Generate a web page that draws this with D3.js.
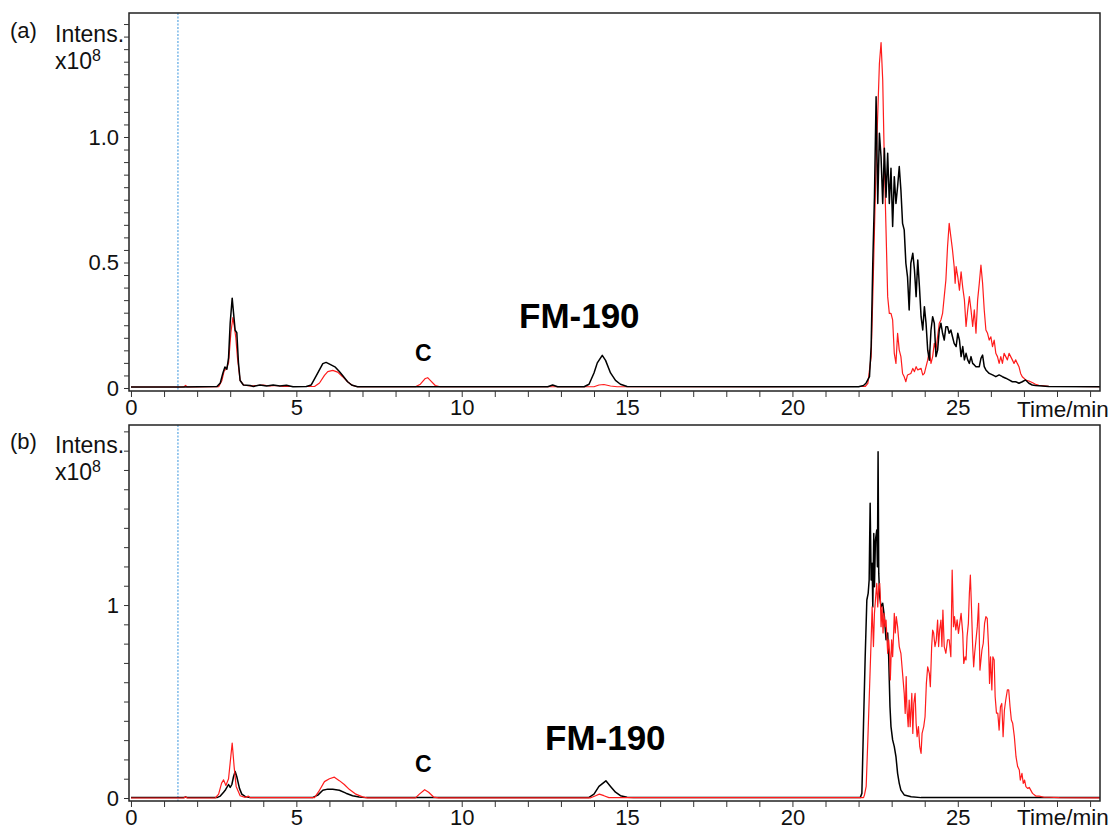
<!DOCTYPE html>
<html>
<head>
<meta charset="utf-8">
<script src="https://cdn.jsdelivr.net/npm/d3@7/dist/d3.min.js"></script>
<style>
  html, body { margin: 0; padding: 0; background: #fff; }
  svg { display: block; font-family: "Liberation Sans", Arial, sans-serif; }
</style>
</head>
<body>
<svg id="chart" width="1118" height="832"></svg>
<script>
// Base peak chromatograms, intensity in units of 1e8, time in minutes.
// Panel (a): black trace
const aBlack = [[0,0.004],[1.5,0.004],[2.6,0.006],[2.7,0.02],[2.78,0.06],[2.84,0.084],[2.9,0.075],[2.95,0.12],[3.0,0.26],[3.06,0.358],[3.1,0.3],[3.15,0.23],[3.2,0.22],[3.25,0.1],[3.3,0.03],[3.4,0.012],[3.6,0.01],[3.7,0.006],[3.9,0.012],[4.1,0.008],[4.3,0.012],[4.5,0.008],[4.7,0.011],[4.9,0.005],[5.3,0.006],[5.45,0.012],[5.6,0.048],[5.8,0.097],[5.9,0.102],[6.05,0.092],[6.18,0.083],[6.3,0.066],[6.4,0.05],[6.55,0.025],[6.67,0.012],[6.85,0.005],[12.6,0.005],[12.75,0.012],[12.9,0.005],[13.7,0.005],[13.85,0.015],[14.0,0.06],[14.1,0.1],[14.25,0.13],[14.35,0.11],[14.5,0.06],[14.65,0.03],[14.8,0.015],[15.0,0.006],[22.0,0.005],[22.15,0.01],[22.23,0.02],[22.33,0.045],[22.38,0.165],[22.43,0.5],[22.48,0.76],[22.53,1.16],[22.58,0.735],[22.63,1.015],[22.68,0.92],[22.73,0.735],[22.78,0.955],[22.83,0.76],[22.88,0.935],[22.93,0.735],[22.98,0.875],[23.03,0.643],[23.08,0.842],[23.13,0.735],[23.18,0.802],[23.23,0.882],[23.28,0.789],[23.33,0.656],[23.38,0.63],[23.43,0.497],[23.48,0.443],[23.53,0.311],[23.58,0.497],[23.64,0.537],[23.69,0.47],[23.74,0.364],[23.79,0.51],[23.84,0.404],[23.89,0.284],[23.94,0.231],[23.99,0.324],[24.04,0.258],[24.09,0.151],[24.14,0.111],[24.19,0.231],[24.24,0.284],[24.29,0.258],[24.34,0.125],[24.39,0.151],[24.44,0.231],[24.49,0.258],[24.54,0.218],[24.59,0.191],[24.64,0.244],[24.69,0.244],[24.74,0.218],[24.79,0.231],[24.84,0.204],[24.89,0.178],[24.95,0.165],[25.0,0.218],[25.05,0.191],[25.1,0.125],[25.15,0.165],[25.2,0.112],[25.25,0.138],[25.3,0.112],[25.35,0.098],[25.4,0.125],[25.45,0.098],[25.5,0.092],[25.55,0.085],[25.65,0.085],[25.7,0.118],[25.75,0.131],[25.8,0.085],[25.85,0.072],[25.95,0.058],[26.05,0.052],[26.15,0.045],[26.25,0.052],[26.35,0.045],[26.45,0.039],[26.55,0.032],[26.65,0.025],[26.75,0.025],[26.85,0.019],[26.95,0.025],[27.05,0.032],[27.15,0.019],[27.25,0.012],[27.35,0.01],[27.75,0.006],[29.3,0.005]];

// Panel (a): red trace
const aRed = [[0,0.004],[1.6,0.004],[1.65,0.01],[1.7,0.004],[2.65,0.005],[2.75,0.03],[2.82,0.07],[2.88,0.075],[2.95,0.1],[3.02,0.22],[3.08,0.28],[3.12,0.25],[3.17,0.2],[3.22,0.12],[3.3,0.03],[3.4,0.012],[3.6,0.008],[3.8,0.01],[4.0,0.012],[4.2,0.008],[4.4,0.01],[4.6,0.006],[5.55,0.006],[5.7,0.02],[5.85,0.05],[5.95,0.065],[6.1,0.07],[6.25,0.063],[6.4,0.045],[6.55,0.025],[6.7,0.01],[6.85,0.005],[8.6,0.005],[8.75,0.015],[8.9,0.038],[8.97,0.041],[9.05,0.03],[9.2,0.01],[9.35,0.005],[14.0,0.005],[14.15,0.012],[14.3,0.014],[14.5,0.008],[14.7,0.005],[22.2,0.006],[22.28,0.018],[22.38,0.125],[22.43,0.364],[22.48,0.63],[22.53,0.895],[22.58,1.094],[22.63,1.293],[22.68,1.376],[22.73,1.227],[22.78,0.895],[22.83,0.63],[22.88,0.364],[22.93,0.297],[22.98,0.297],[23.03,0.271],[23.08,0.138],[23.13,0.098],[23.18,0.218],[23.23,0.151],[23.28,0.125],[23.33,0.058],[23.38,0.045],[23.43,0.025],[23.48,0.052],[23.58,0.058],[23.64,0.078],[23.69,0.065],[23.74,0.085],[23.79,0.072],[23.89,0.078],[23.94,0.052],[23.99,0.058],[24.04,0.085],[24.09,0.111],[24.14,0.151],[24.19,0.098],[24.24,0.125],[24.29,0.178],[24.34,0.151],[24.39,0.205],[24.44,0.258],[24.49,0.271],[24.54,0.297],[24.59,0.364],[24.64,0.43],[24.69,0.563],[24.74,0.656],[24.79,0.603],[24.84,0.55],[24.89,0.484],[24.92,0.417],[24.95,0.484],[25.0,0.443],[25.05,0.39],[25.1,0.463],[25.15,0.4],[25.2,0.351],[25.25,0.245],[25.3,0.311],[25.35,0.364],[25.4,0.311],[25.45,0.245],[25.5,0.311],[25.55,0.218],[25.6,0.351],[25.65,0.417],[25.7,0.49],[25.75,0.417],[25.8,0.311],[25.85,0.231],[25.9,0.218],[25.95,0.191],[26.0,0.204],[26.05,0.165],[26.1,0.191],[26.15,0.138],[26.2,0.125],[26.25,0.098],[26.3,0.125],[26.35,0.098],[26.4,0.138],[26.45,0.125],[26.5,0.112],[26.55,0.138],[26.6,0.125],[26.65,0.112],[26.7,0.098],[26.75,0.112],[26.8,0.098],[26.85,0.085],[26.9,0.058],[26.95,0.045],[27.0,0.039],[27.05,0.032],[27.15,0.028],[27.25,0.022],[27.35,0.015],[27.45,0.011],[27.75,0.007],[29.3,0.005]];

// Panel (b): black trace
const bBlack = [[0,0.002],[1.6,0.002],[1.65,0.006],[1.7,0.002],[2.6,0.002],[2.7,0.01],[2.8,0.03],[2.86,0.043],[2.95,0.07],[3.0,0.055],[3.05,0.07],[3.1,0.11],[3.15,0.137],[3.2,0.11],[3.28,0.05],[3.35,0.02],[3.45,0.008],[3.6,0.003],[5.5,0.003],[5.65,0.015],[5.8,0.04],[5.95,0.046],[6.1,0.045],[6.3,0.04],[6.5,0.025],[6.7,0.012],[6.9,0.005],[7.1,0.002],[13.85,0.003],[14.0,0.02],[14.15,0.06],[14.36,0.089],[14.5,0.06],[14.65,0.03],[14.8,0.012],[15.0,0.004],[15.2,0.002],[22.05,0.002],[22.1,0.024],[22.15,0.387],[22.2,0.732],[22.25,1.026],[22.29,1.06],[22.32,1.13],[22.35,1.527],[22.38,1.13],[22.41,1.216],[22.43,0.99],[22.46,1.371],[22.48,1.095],[22.51,1.337],[22.55,1.389],[22.57,1.199],[22.59,1.794],[22.61,1.164],[22.64,1.043],[22.68,0.99],[22.73,1.009],[22.78,0.94],[22.83,0.82],[22.88,0.855],[22.91,0.732],[22.95,0.473],[22.98,0.37],[23.03,0.301],[23.08,0.266],[23.13,0.215],[23.18,0.128],[23.23,0.076],[23.28,0.041],[23.38,0.016],[23.59,0.007],[23.89,0.002],[29.3,0.002]];

// Panel (b): red trace
const bRed = [[0,0],[1.6,0],[1.65,0.006],[1.7,0],[2.55,0],[2.65,0.02],[2.74,0.077],[2.8,0.094],[2.87,0.065],[2.95,0.1],[3.06,0.285],[3.12,0.16],[3.18,0.06],[3.3,0.012],[3.45,0.003],[3.55,0.01],[3.6,0.002],[5.55,0.002],[5.7,0.04],[5.85,0.085],[6.0,0.1],[6.15,0.108],[6.3,0.09],[6.45,0.07],[6.6,0.045],[6.8,0.02],[7.0,0.006],[7.15,0.001],[8.6,0.001],[8.72,0.02],[8.88,0.043],[9.0,0.03],[9.15,0.005],[9.3,0.001],[13.9,0.001],[14.05,0.012],[14.16,0.02],[14.3,0.012],[14.45,0.002],[22.15,0.002],[22.18,0.017],[22.23,0.06],[22.28,0.301],[22.33,0.56],[22.38,0.82],[22.41,0.99],[22.45,0.785],[22.48,0.957],[22.51,1.026],[22.55,1.112],[22.58,0.99],[22.61,1.095],[22.64,1.112],[22.66,1.026],[22.68,0.888],[22.71,0.99],[22.74,0.855],[22.77,0.957],[22.8,0.888],[22.83,0.922],[22.86,0.82],[22.88,0.75],[22.91,0.82],[22.94,0.75],[22.96,0.612],[23.0,0.82],[23.03,0.732],[23.06,0.855],[23.08,0.957],[23.11,0.855],[23.14,0.94],[23.18,0.888],[23.23,0.785],[23.28,0.75],[23.33,0.646],[23.38,0.542],[23.41,0.438],[23.44,0.629],[23.46,0.473],[23.5,0.37],[23.53,0.508],[23.56,0.37],[23.61,0.542],[23.64,0.335],[23.67,0.49],[23.71,0.542],[23.74,0.387],[23.77,0.318],[23.81,0.37],[23.85,0.266],[23.89,0.231],[23.92,0.335],[23.97,0.37],[24.01,0.421],[24.05,0.594],[24.09,0.68],[24.14,0.646],[24.17,0.577],[24.21,0.785],[24.24,0.87],[24.27,0.855],[24.31,0.785],[24.35,0.82],[24.39,0.922],[24.42,0.785],[24.45,0.87],[24.49,0.922],[24.52,0.785],[24.55,0.974],[24.59,0.785],[24.64,0.75],[24.69,0.82],[24.74,0.82],[24.79,0.732],[24.83,1.181],[24.87,0.888],[24.9,0.94],[24.94,0.871],[24.98,0.923],[25.02,0.853],[25.06,0.905],[25.1,0.957],[25.15,0.853],[25.18,0.697],[25.22,0.732],[25.25,0.715],[25.28,0.836],[25.32,0.905],[25.35,1.06],[25.38,1.155],[25.41,1.009],[25.45,0.785],[25.48,0.68],[25.51,0.75],[25.55,0.819],[25.59,0.888],[25.63,1.009],[25.67,0.663],[25.7,0.715],[25.73,0.767],[25.77,0.802],[25.81,0.905],[25.85,0.94],[25.89,0.931],[25.93,0.785],[25.96,0.594],[25.99,0.732],[26.03,0.56],[26.06,0.732],[26.1,0.715],[26.13,0.525],[26.17,0.44],[26.21,0.44],[26.25,0.352],[26.29,0.473],[26.33,0.49],[26.37,0.318],[26.41,0.456],[26.45,0.508],[26.5,0.56],[26.54,0.56],[26.58,0.473],[26.62,0.404],[26.66,0.387],[26.71,0.318],[26.76,0.214],[26.81,0.163],[26.86,0.145],[26.89,0.093],[26.94,0.128],[26.98,0.076],[27.02,0.093],[27.06,0.059],[27.11,0.05],[27.16,0.055],[27.26,0.024],[27.36,0.01],[27.46,0.01],[27.61,0.004],[27.76,0.004],[28.07,0.002],[29.3,0.001]];

// Axis ticks and labels
const timeMajorTicks = [0, 5, 10, 15, 20, 25];
const timeMinorTicks = d3.range(0, 30, 1);
const aIntensityLabels = [[0, "0"], [0.5, "0.5"], [1.0, "1.0"]];
const aIntensityMinor = d3.range(0, 1.46, 0.05);
const bIntensityLabels = [[0, "0"], [1, "1"]];
const bIntensityMinor = d3.range(0, 1.95, 0.1);
const markerLine = 1.42;   // vertical dashed marker, minutes

const svg = d3.select("#chart");
const FONT = "'Liberation Sans', Arial, sans-serif";

const panels = [
  { tag: "(a)", top: 13, bottom: 391, yDomain: [-0.012, 1.494],
    black: aBlack, red: aRed, redFirst: true,
    yLabels: aIntensityLabels, yMinor: aIntensityMinor,
    titleY: 42, fm: { x: 519, y: 328 }, c: { x: 415, y: 361 }, timeY: 417 },
  { tag: "(b)", top: 425, bottom: 801, yDomain: [-0.0155, 1.933],
    black: bBlack, red: bRed, redFirst: false,
    yLabels: bIntensityLabels, yMinor: bIntensityMinor,
    titleY: 453, fm: { x: 545, y: 750 }, c: { x: 415, y: 772 }, timeY: 825 }
];

const left = 129, right = 1100;

panels.forEach(p => {
  const x = d3.scaleLinear().domain([-0.06, 29.3]).range([left, right]);
  const y = d3.scaleLinear().domain(p.yDomain).range([p.bottom, p.top]);
  const g = svg.append("g");

  // dashed marker line
  g.append("line")
    .attr("x1", x(markerLine)).attr("x2", x(markerLine))
    .attr("y1", p.top).attr("y2", p.bottom)
    .attr("stroke", "#4a9fe0").attr("stroke-width", 1.1)
    .attr("stroke-dasharray", "2,1.5");

  const line = d3.line().x(d => x(d[0])).y(d => y(d[1]));
  const drawTrace = (data, color, width) =>
    g.append("path").datum(data)
      .attr("d", line)
      .attr("fill", "none")
      .attr("stroke", color)
      .attr("stroke-width", width)
      .attr("stroke-linejoin", "round");

  if (p.redFirst) {
    drawTrace(p.red, "#ff1c1c", 1.2);
    drawTrace(p.black, "#000", 1.5);
  } else {
    drawTrace(p.black, "#000", 1.5);
    drawTrace(p.red, "#ff1c1c", 1.2);
  }

  // frame
  g.append("rect")
    .attr("x", left).attr("y", p.top)
    .attr("width", right - left).attr("height", p.bottom - p.top)
    .attr("fill", "none").attr("stroke", "#222").attr("stroke-width", 1.5);

  // x axis ticks and labels
  const xAxis = d3.axisBottom(x)
    .tickValues(timeMinorTicks)
    .tickSize(6).tickSizeOuter(0)
    .tickFormat(d => timeMajorTicks.includes(d) ? String(d) : "");
  const xg = g.append("g").attr("transform", `translate(0,${p.bottom})`).call(xAxis);
  xg.select(".domain").remove();
  xg.selectAll(".tick line").attr("stroke", "#333");
  xg.selectAll(".tick text")
    .attr("font-family", FONT).attr("font-size", 22).attr("fill", "#111")
    .attr("dy", "0.66em").attr("y", 9);

  // y axis ticks and labels
  const labelMap = new Map(p.yLabels.map(d => [d[0], d[1]]));
  const yAxis = d3.axisLeft(y)
    .tickValues(p.yMinor)
    .tickSize(5).tickSizeOuter(0)
    .tickFormat(d => {
      const k = Math.round(d * 100) / 100;
      return labelMap.has(k) ? labelMap.get(k) : "";
    });
  const yg = g.append("g").attr("transform", `translate(${left},0)`).call(yAxis);
  yg.select(".domain").remove();
  yg.selectAll(".tick line").attr("stroke", "#333");
  yg.selectAll(".tick text")
    .attr("font-family", FONT).attr("font-size", 22).attr("fill", "#111")
    .attr("x", -10);

  // panel titles
  g.append("text").attr("x", 10).attr("y", p.titleY - 4)
    .attr("font-family", FONT).attr("font-size", 22).attr("fill", "#111")
    .text(p.tag);
  g.append("text").attr("x", 55).attr("y", p.titleY)
    .attr("font-family", FONT).attr("font-size", 23).attr("fill", "#111")
    .text("Intens.");
  const sc = g.append("text").attr("x", 55).attr("y", p.titleY + 27)
    .attr("font-family", FONT).attr("font-size", 23).attr("fill", "#111");
  sc.append("tspan").text("x10");
  sc.append("tspan").attr("font-size", 16).attr("dy", -8).text("8");

  // axis title
  g.append("text").attr("x", 1017).attr("y", p.timeY)
    .attr("font-family", FONT).attr("font-size", 22.5).attr("fill", "#111")
    .text("Time/min");

  // annotations
  g.append("text").attr("x", p.fm.x).attr("y", p.fm.y)
    .attr("font-family", FONT).attr("font-size", 35).attr("font-weight", "bold")
    .attr("fill", "#000").text("FM-190");
  g.append("text").attr("x", p.c.x).attr("y", p.c.y)
    .attr("font-family", FONT).attr("font-size", 23).attr("font-weight", "bold")
    .attr("fill", "#000").text("C");
});
</script>
</body>
</html>
